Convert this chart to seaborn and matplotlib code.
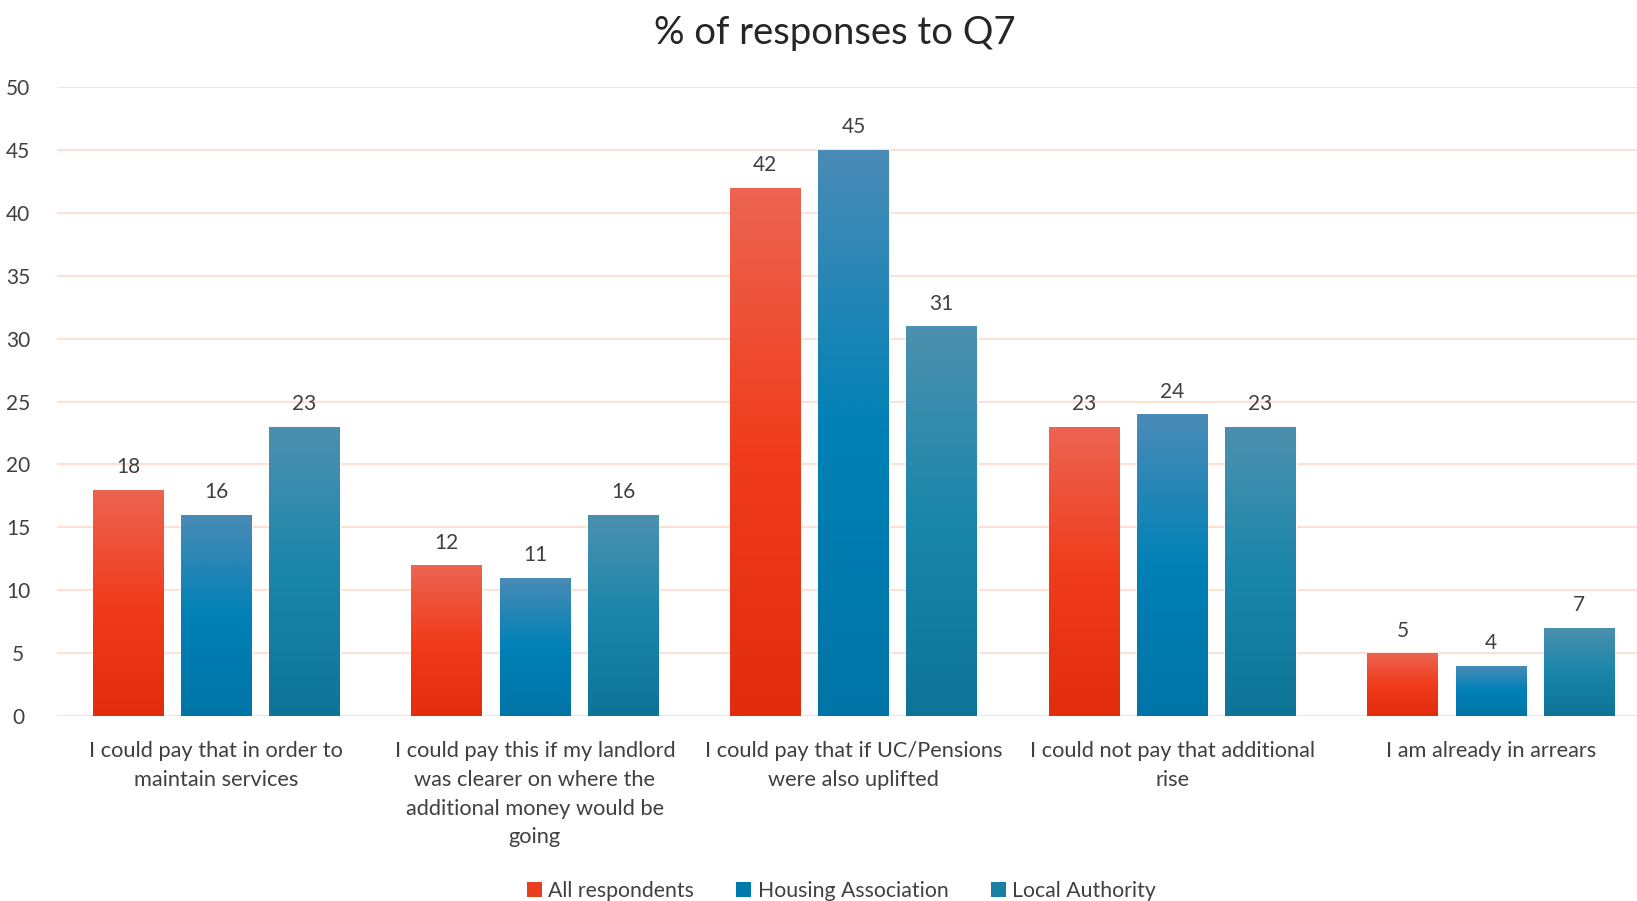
import numpy as np
import pandas as pd
import matplotlib
matplotlib.use("Agg")
import matplotlib.pyplot as plt
import seaborn as sns
from matplotlib.colors import LinearSegmentedColormap
from matplotlib.patches import Patch

categories = [
    "I could pay that in order to\nmaintain services",
    "I could pay this if my landlord\nwas clearer on where the\nadditional money would be\ngoing",
    "I could pay that if UC/Pensions\nwere also uplifted",
    "I could not pay that additional\nrise",
    "I am already in arrears",
]
series_names = ["All respondents", "Housing Association", "Local Authority"]
all_respondents = [18, 12, 42, 23, 5]
housing_association = [16, 11, 45, 24, 4]
local_authority = [23, 16, 31, 23, 7]
y_ticks = [0, 5, 10, 15, 20, 25, 30, 35, 40, 45, 50]

base_colors = ["#E8401E", "#0079AD", "#1A7FA0"]
gradients = [
    ["#EC6452", "#F03C1C", "#E12D0D"],
    ["#4A8BB6", "#0081B6", "#0074A6"],
    ["#4D90AF", "#1A86AA", "#0E7497"],
]

sns.set_theme(style="white")
plt.rcParams["font.family"] = ["Lato", "DejaVu Sans"]
text_color = "#404040"

df = pd.DataFrame({
    "category": categories * 3,
    "series": [s for s in series_names for _ in categories],
    "value": all_respondents + housing_association + local_authority,
})

fig = plt.figure(figsize=(16.37, 9.01), dpi=100)
ax = fig.add_axes([0.0348, 0.2053, 0.9732, 0.6981])

sns.barplot(data=df, x="category", y="value", hue="series", order=categories,
            hue_order=series_names, palette=base_colors, width=0.83, gap=0.2,
            ax=ax, legend=False, saturation=1, zorder=2)

ax.set_ylim(0, 50)
ax.set_xlim(-0.5, 4.5)
ax.set_yticks(y_ticks)
ax.yaxis.grid(True, color="#FCE1D4", linewidth=1.5, zorder=0)
ax.set_axisbelow(True)
for s in ax.spines.values():
    s.set_visible(False)
ax.tick_params(axis="both", length=0, colors=text_color, labelsize=15)
ax.tick_params(axis="x", pad=18, labelsize=15.7)
ax.tick_params(axis="y", pad=28)
ax.set_xlabel("")
ax.set_ylabel("")
for lbl in ax.get_yticklabels():
    lbl.set_horizontalalignment("center")
ax.axhline(0, color="#FCE1D4", linewidth=1.5, zorder=1)

# gradient fill for each bar
for ci, cont in enumerate(ax.containers):
    cmap = LinearSegmentedColormap.from_list(f"g{ci}", gradients[ci])
    grad = np.linspace(0, 1, 256).reshape(-1, 1)
    for bar in cont:
        x0, y0 = bar.get_x(), bar.get_y()
        w, h = bar.get_width(), bar.get_height()
        im = ax.imshow(grad, cmap=cmap, aspect="auto", origin="upper",
                       extent=[x0, x0 + w, y0, y0 + h], zorder=3)
        im.set_clip_path(bar)
    ax.bar_label(cont, fmt="%g", padding=9, fontsize=15, color=text_color)

ax.set_xlim(-0.5, 4.5)
ax.set_ylim(0, 50)

for lbl in ax.get_xticklabels():
    lbl.set_linespacing(1.55)

fig.suptitle("% of responses to Q7", x=0.510, y=0.983, va="top",
             fontsize=27.5, color="#262626")

handles = [Patch(facecolor=c, edgecolor="none") for c in base_colors]
fig.legend(handles, series_names, loc="center", bbox_to_anchor=(0.514, 0.011),
           ncol=3, frameon=False, fontsize=15.3, labelcolor=text_color,
           handlelength=0.7, handleheight=0.7, handletextpad=0.3,
           columnspacing=2.0)

fig.savefig("out.png", dpi=100)
